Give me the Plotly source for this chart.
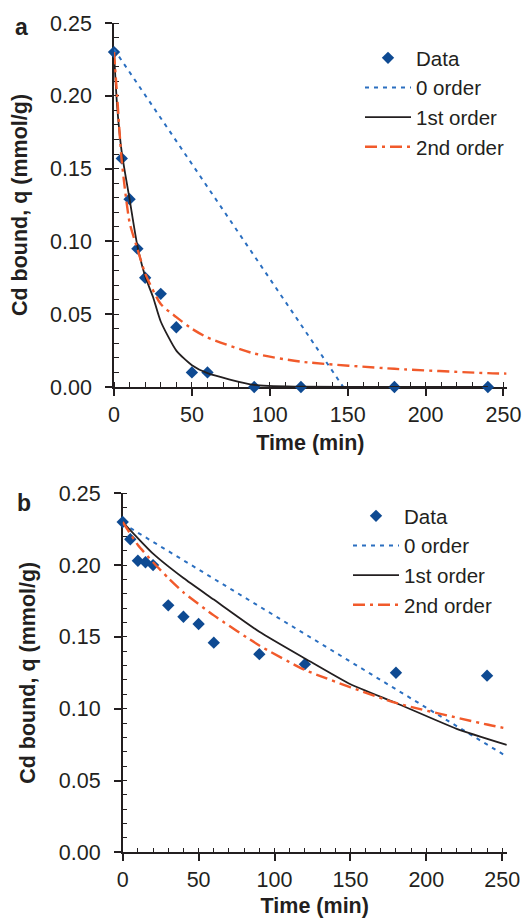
import plotly.graph_objects as go

# ---- panel a ----
t_data_a = [0, 5, 10, 15, 20, 30, 40, 50, 60, 90, 120, 180, 240]
q_data_a = [0.230, 0.157, 0.129, 0.095, 0.075, 0.064, 0.041, 0.010, 0.010, 0.0, 0.0, 0.0, 0.0]

t_zero_a = [0, 150]
q_zero_a = [0.232, -0.0045]

t_first_a = [0, 2, 5, 10, 15, 20, 25, 30, 40, 50, 60, 90, 120, 180, 240]
q_first_a = [0.230, 0.193, 0.161, 0.129, 0.097, 0.076, 0.062, 0.045, 0.025, 0.015, 0.0095, 0.0014, 0.0002, 0.0, 0.0]

t_second_a = [0, 2, 5, 10, 15, 20, 30, 40, 50, 60, 90, 120, 180, 240, 252]
q_second_a = [0.230, 0.200, 0.155, 0.113, 0.095, 0.078, 0.057, 0.048, 0.040, 0.034, 0.023, 0.0174, 0.0125, 0.0095, 0.0092]

# ---- panel b ----
t_data_b = [0, 5, 10, 15, 20, 30, 40, 50, 60, 90, 120, 180, 240]
q_data_b = [0.230, 0.218, 0.203, 0.202, 0.200, 0.172, 0.164, 0.159, 0.146, 0.138, 0.131, 0.125, 0.123]

t_zero_b = [0, 253]
q_zero_b = [0.229, 0.0667]

t_first_b = [0, 20, 40, 60, 90, 120, 150, 180, 220, 253]
q_first_b = [0.230, 0.208, 0.191, 0.176, 0.1536, 0.135, 0.117, 0.104, 0.086, 0.0748]

t_second_b = [0, 10, 20, 30, 40, 60, 90, 120, 180, 240, 253]
q_second_b = [0.230, 0.214, 0.202, 0.191, 0.181, 0.165, 0.144, 0.127, 0.104, 0.089, 0.0862]

names = ["Data", "0 order", "1st order", "2nd order"]

INK = "#231f20"
MARK = "#0e4a92"
BLUE = "#2b6fc0"
ORANGE = "#f15a2b"
FONT = "Liberation Sans, Arial, sans-serif"

W, H = 522, 918


def px_x(p):
    return p / W


def px_y(p):
    return 1 - p / H


fig = go.Figure()


def add_panel(t_d, q_d, t0, q0, t1, q1, t2, q2, xa, ya, leg, smooth):
    fig.add_trace(go.Scatter(x=t_d, y=q_d, mode="markers", name=names[0],
                             marker=dict(symbol="diamond", size=9.5, color=MARK),
                             cliponaxis=False, xaxis=xa, yaxis=ya, legend=leg))
    fig.add_trace(go.Scatter(x=t0, y=q0, mode="lines", name=names[1],
                             line=dict(color=BLUE, width=2, dash="4px,5px"),
                             xaxis=xa, yaxis=ya, legend=leg))
    fig.add_trace(go.Scatter(x=t1, y=q1, mode="lines", name=names[2],
                             line=dict(color=INK, width=1.8, shape="spline", smoothing=smooth),
                             xaxis=xa, yaxis=ya, legend=leg))
    fig.add_trace(go.Scatter(x=t2, y=q2, mode="lines", name=names[3],
                             line=dict(color=ORANGE, width=2.4, dash="12px,5px,3px,5px",
                                       shape="spline", smoothing=smooth),
                             xaxis=xa, yaxis=ya, legend=leg))


add_panel(t_data_a, q_data_a, t_zero_a, q_zero_a, t_first_a, q_first_a,
          t_second_a, q_second_a, "x", "y", "legend", 0.6)
add_panel(t_data_b, q_data_b, t_zero_b, q_zero_b, t_first_b, q_first_b,
          t_second_b, q_second_b, "x2", "y2", "legend2", 0.5)

tick_font = dict(family=FONT, size=21.5, color=INK)
title_font = dict(family=FONT, size=21.5, color=INK, weight="bold")

common = dict(showline=True, linecolor=INK, linewidth=1.5, showgrid=False, zeroline=False,
              ticks="outside", ticklen=7, tickwidth=1.5, tickcolor=INK, automargin=False,
              tickfont=tick_font, layer="below traces")


def xaxis(dom, rng, anchor):
    return dict(common, domain=dom, range=rng, anchor=anchor, tickvals=[0, 50, 100, 150, 200, 250],
                minor=dict(ticks="inside", ticklen=5, tickwidth=1.2, tickcolor=INK, dtick=10),
                ticklabelstandoff=0,
                title=dict(text="Time (min)", font=title_font, standoff=9))


def yaxis(dom, anchor):
    return dict(common, domain=dom, range=[0, 0.25], anchor=anchor, dtick=0.05, tickformat=".2f",
                minor=dict(ticks="inside", ticklen=5, tickwidth=1.2, tickcolor=INK, dtick=0.01),
                ticklabelstandoff=9,
                title=dict(text="Cd bound, q (mmol/g)", font=title_font, standoff=17))


legend_common = dict(font=dict(family=FONT, size=20.5, color=INK), bgcolor="rgba(0,0,0,0)",
                     xanchor="left", yanchor="top", tracegroupgap=0, itemwidth=46)

fig.update_layout(
    width=W, height=H,
    margin=dict(l=0, r=0, t=0, b=0),
    paper_bgcolor="white", plot_bgcolor="white",
    font=dict(family=FONT, color=INK),
    xaxis=xaxis([px_x(114), px_x(506.6)], [0, 252], "y"),
    yaxis=yaxis([px_y(387), px_y(23)], "x"),
    xaxis2=xaxis([px_x(122.7), px_x(506.8)], [0, 253], "y2"),
    yaxis2=yaxis([px_y(852.3), px_y(493.3)], "x2"),
    legend=dict(legend_common, x=px_x(360), y=px_y(38)),
    legend2=dict(legend_common, x=px_x(348), y=px_y(496)),
    annotations=[
        dict(text="<b>a</b>", x=px_x(13), y=px_y(12), xref="paper", yref="paper",
             xanchor="left", yanchor="top", showarrow=False,
             font=dict(family=FONT, size=23, color=INK)),
        dict(text="<b>b</b>", x=px_x(15), y=px_y(488), xref="paper", yref="paper",
             xanchor="left", yanchor="top", showarrow=False,
             font=dict(family=FONT, size=23, color=INK)),
    ],
)

# drop the browser's default body margin so the figure fills the window exactly
fig.write_html("out.html", config={"displayModeBar": False},
               post_script="document.body.style.margin = '0px';")
